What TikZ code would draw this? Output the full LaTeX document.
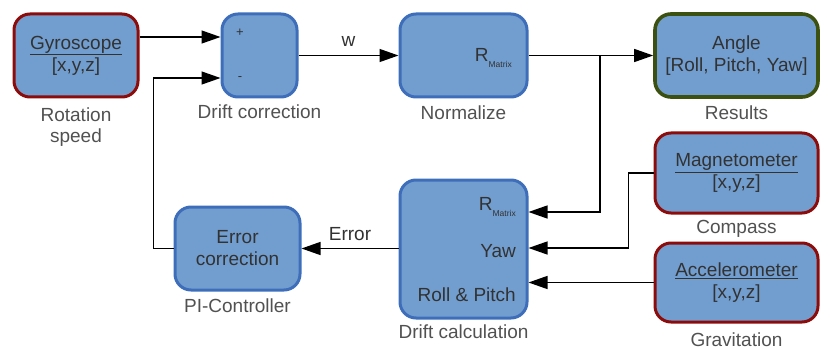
\documentclass[tikz,border=0pt]{standalone}
\usepackage{fontspec}
\setmainfont{Liberation Sans}
\usetikzlibrary{arrows.meta,positioning}

% Couleurs des blocs
\definecolor{fondbloc}{RGB}{114,158,207}
\definecolor{bordbleu}{RGB}{62,110,186}
\definecolor{bordrouge}{RGB}{140,12,12}
\definecolor{bordvert}{RGB}{60,80,16}
\definecolor{texte}{RGB}{50,50,50}

\tikzset{
    bloc/.style={draw=bordbleu, fill=fondbloc, line width=3pt, rounded corners=16pt,
        align=center, text=texte, font=\fontsize{19}{22}\selectfont, inner sep=0pt},
    capteur/.style={bloc, draw=bordrouge},
    resultat/.style={bloc, draw=bordvert, line width=3.6pt},
    legende/.style={text=texte!85, align=center, font=\fontsize{19}{21}\selectfont, inner sep=0pt},
    signe/.style={text=texte, font=\fontsize{13}{13}\selectfont, inner sep=0pt},
    entree/.style={text=texte, font=\fontsize{19}{22}\selectfont, inner sep=0pt, anchor=east},
    fleche/.style={-{Triangle[length=19pt, width=13pt]}, line width=1.3pt, black}
}

\newcommand{\rmatrix}{R\raisebox{-0.55ex}{\fontsize{8.5}{8.5}\selectfont Matrix}}

\begin{document}
\begin{tikzpicture}[x=1pt, y=-1pt]
    % Cadre de l'image
    \useasboundingbox (0,0) rectangle (830,350);

    % Capteurs
    \node[capteur, minimum width=124pt, minimum height=83pt] (gyro) at (76,55.5)
        {\underline{Gyroscope}\\{}[x,y,z]};
    \node[capteur, minimum width=163pt, minimum height=80pt] (magneto) at (736.5,173)
        {\underline{Magnetometer}\\{}[x,y,z]};
    \node[capteur, minimum width=163pt, minimum height=79pt] (accelero) at (736.5,282.5)
        {\underline{Accelerometer}\\{}[x,y,z]};

    % Blocs de calcul
    \node[bloc, minimum width=75pt, minimum height=83pt] (dcorr) at (259.5,55.5) {};
    \node[signe] (plus) at (240,33) {+};
    \node[signe] (moins) at (240,79) {-};
    \node[bloc, minimum width=127pt, minimum height=83pt] (norm) at (463.5,55.5) {};
    \node[entree] (rnorm) at (512,58) {\rmatrix};
    \node[bloc, minimum width=127pt, minimum height=138pt] (dcalc) at (463.5,249) {};
    \node[entree] (rcalc) at (516,207) {\rmatrix};
    \node[entree] (yaw) at (516,251) {Yaw};
    \node[entree] (rollpitch) at (516,295) {Roll \& Pitch};
    \node[bloc, minimum width=125pt, minimum height=83pt] (ecorr) at (237.5,248.5)
        {Error\\correction};

    % Resultat
    \node[resultat, minimum width=163pt, minimum height=83pt] (angle) at (736.5,55.5)
        {Angle\\{}[Roll, Pitch, Yaw]};

    % Legendes sous les blocs
    \node[legende, below=9pt of gyro] (lgyro) {Rotation\\speed};
    \node[legende, below=6pt of dcorr] (ldcorr) {Drift correction};
    \node[legende, below=7pt of norm] (lnorm) {Normalize};
    \node[legende, below=7pt of angle] (langle) {Results};
    \node[legende, below=6pt of magneto] (lmagneto) {Compass};
    \node[legende, below=9pt of accelero] (laccelero) {Gravitation};
    \node[legende, below=5pt of dcalc] (ldcalc) {Drift calculation};
    \node[legende, below=7pt of ecorr] (lecorr) {PI-Controller};

    % Liaisons
    \coordinate (branche) at (600,55.5);
    \draw[fleche] (gyro.east |- 0,37) -- (dcorr.west |- 0,37);
    \draw[fleche] (ecorr.west) -- ++(-20,0) |- (dcorr.west |- 0,78);
    \draw[fleche] (dcorr.east) -- node[above=5pt, font=\fontsize{19}{19}\selectfont, text=texte] {w} (norm.west);
    \draw[fleche] (norm.east) -- (angle.west);
    \draw[fleche] (branche) |- (dcalc.east |- 0,212);
    \draw[fleche] (magneto.west) -- ++(-25,0) |- (dcalc.east |- 0,248);
    \draw[fleche] (accelero.west) -- (dcalc.east |- accelero.west);
    \draw[fleche] (dcalc.west |- ecorr.east) -- node[above=4pt, font=\fontsize{19}{19}\selectfont, text=texte] {Error} (ecorr.east);
\end{tikzpicture}
\end{document}
